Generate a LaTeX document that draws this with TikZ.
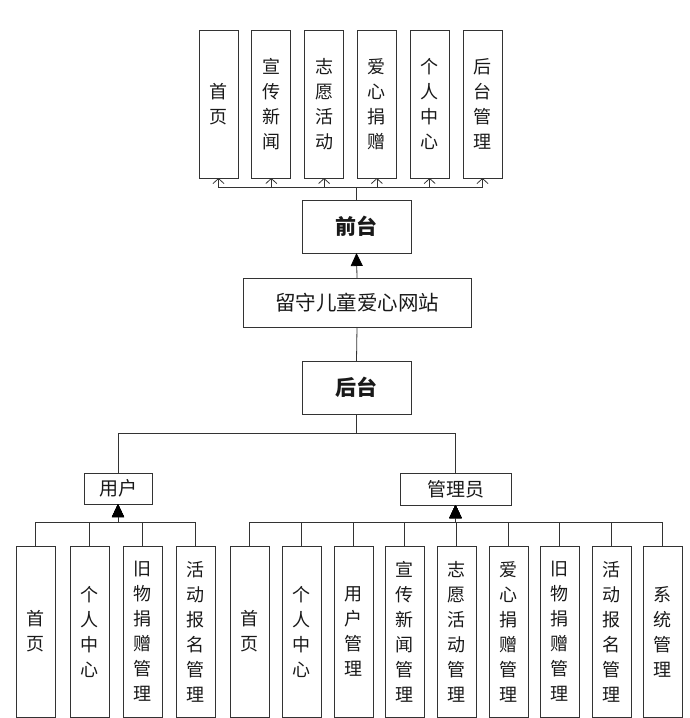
\documentclass[tikz,border=0pt]{standalone}
\usepackage{fontspec}
\setmainfont{Noto Sans CJK SC}
\usetikzlibrary{
    arrows.meta,
    positioning
}
\tikzset{
    every picture/.style = {
        > = {Straight Barb[length=5pt, width=11pt]},
        line width = 0.8pt,
        draw = black!80
    },
    every node/.style = {
        inner sep = 0pt,
        outer sep = 0pt,
        align = center,
        text = black!90
    },
    col/.style = {
        draw = black!80,
        minimum width = 39pt,
        font = \fontsize{18}{25}\selectfont
    },
    top/.style = {col, minimum height = 148pt},
    low/.style = {col, minimum height = 171pt},
    hbox/.style = {
        draw = black!80,
        font = \fontsize{19}{22}\selectfont
    },
    tip/.style = {-{Triangle[length=13pt, width=12pt, black]}}
}

\begin{document}
\begin{tikzpicture}[x = 1pt, y = -1pt]
    \useasboundingbox (0, 0) rectangle (689, 718);
    % front end
    \node[top] (f1) at (218.5, 104) {首\\页};
    \node[top] (f2) at (271.3, 104) {宣\\传\\新\\闻};
    \node[top] (f3) at (324.1, 104) {志\\愿\\活\\动};
    \node[top] (f4) at (376.9, 104) {爱\\心\\捐\\赠};
    \node[top] (f5) at (429.7, 104) {个\\人\\中\\心};
    \node[top] (f6) at (482.5, 104) {后\\台\\管\\理};
    \node[hbox, minimum width = 109pt, minimum height = 53pt,
        font = \fontsize{21}{22}\selectfont\bfseries] (qt) at (356.5, 226.5) {前台};
    \node[hbox, minimum width = 228pt, minimum height = 49pt,
        font = \fontsize{20.5}{22}\selectfont] (site) at (357, 302.5) {留守儿童爱心网站};
    \node[hbox, minimum width = 109pt, minimum height = 53pt,
        font = \fontsize{21}{22}\selectfont\bfseries] (ht) at (356.5, 387.5) {后台};
    \node[hbox, minimum width = 68pt, minimum height = 31pt] (user) at (118, 488.5) {用户};
    \node[hbox, minimum width = 111pt, minimum height = 32pt] (admin) at (455.5, 489) {管理员};
    % user
    \node[low] (u1) at (35.5, 631.5) {首\\页};
    \node[low] (u2) at (89.5, 631.5) {个\\人\\中\\心};
    \node[low] (u3) at (142.5, 631.5) {旧\\物\\捐\\赠\\管\\理};
    \node[low] (u4) at (195.5, 631.5) {活\\动\\报\\名\\管\\理};
    % admin
    \node[low] (a1) at (249.5, 631.5) {首\\页};
    \node[low] (a2) at (301.5, 631.5) {个\\人\\中\\心};
    \node[low] (a3) at (353.5, 631.5) {用\\户\\管\\理};
    \node[low] (a4) at (404.5, 631.5) {宣\\传\\新\\闻\\管\\理};
    \node[low] (a5) at (456.5, 631.5) {志\\愿\\活\\动\\管\\理};
    \node[low] (a6) at (508.5, 631.5) {爱\\心\\捐\\赠\\管\\理};
    \node[low] (a7) at (559.5, 631.5) {旧\\物\\捐\\赠\\管\\理};
    \node[low] (a8) at (611.5, 631.5) {活\\动\\报\\名\\管\\理};
    \node[low] (a9) at (662.5, 631.5) {系\\统\\管\\理};

    \draw[->] (qt.north) -- ++(0, -13) -| (f1.south);
    \draw[->] (qt.north) -- ++(0, -13) -| (f2.south);
    \draw[->] (qt.north) -- ++(0, -13) -| (f3.south);
    \draw[->] (qt.north) -- ++(0, -13) -| (f4.south);
    \draw[->] (qt.north) -- ++(0, -13) -| (f5.south);
    \draw[->] (qt.north) -- ++(0, -13) -| (f6.south);
    \draw[tip] (site.north) -- (qt.south);
    \draw (site.south) -- (ht.north);
    \draw (ht.south) -- ++(0, 19) -| (user.north);
    \draw (ht.south) -- ++(0, 19) -| (admin.north);
    \draw[tip] (u1.north) -- ++(0, -24) -| (user.south);
    \draw[tip] (u2.north) -- ++(0, -24) -| (user.south);
    \draw[tip] (u3.north) -- ++(0, -24) -| (user.south);
    \draw[tip] (u4.north) -- ++(0, -24) -| (user.south);
    \draw[tip] (a1.north) -- ++(0, -24) -| (admin.south);
    \draw[tip] (a2.north) -- ++(0, -24) -| (admin.south);
    \draw[tip] (a3.north) -- ++(0, -24) -| (admin.south);
    \draw[tip] (a4.north) -- ++(0, -24) -| (admin.south);
    \draw[tip] (a5.north) -- ++(0, -24) -| (admin.south);
    \draw[tip] (a6.north) -- ++(0, -24) -| (admin.south);
    \draw[tip] (a7.north) -- ++(0, -24) -| (admin.south);
    \draw[tip] (a8.north) -- ++(0, -24) -| (admin.south);
    \draw[tip] (a9.north) -- ++(0, -24) -| (admin.south);
\end{tikzpicture}
\end{document}
